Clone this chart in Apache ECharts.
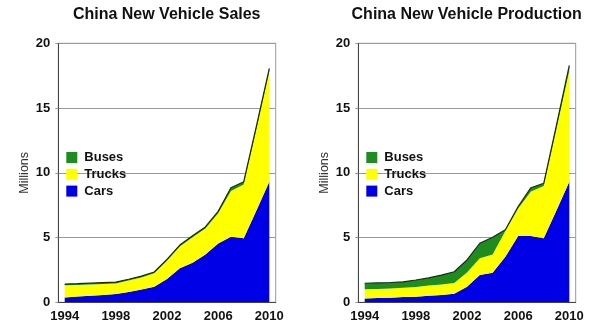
<!DOCTYPE html>
<html><head><meta charset="utf-8">
<script src="https://cdn.jsdelivr.net/npm/echarts@6/dist/echarts.min.js"></script>
<style>html,body{margin:0;padding:0;background:#fff}#c{width:600px;height:331px}</style>
</head><body><div id="c"></div>
<script>
const years = ['1994','1995','1996','1997','1998','1999','2000','2001','2002','2003','2004','2005','2006','2007','2008','2009','2010'];
const seriesNames = ['Buses','Trucks','Cars'];
const titles = ['China New Vehicle Sales','China New Vehicle Production'];
const yTicks = [0,5,10,15,20];
// Sales (millions)
const salesCars   = [0.38,0.44,0.50,0.57,0.64,0.80,0.98,1.20,1.80,2.62,3.06,3.70,4.55,5.07,4.94,7.10,9.31];
const salesTrucks = [0.93,0.90,0.88,0.85,0.82,0.88,0.94,1.04,1.40,1.68,1.96,2.00,2.32,3.53,4.16,6.30,8.49];
const salesBuses  = [0.10,0.10,0.10,0.10,0.10,0.10,0.10,0.10,0.12,0.12,0.12,0.12,0.15,0.25,0.21,0.25,0.27];
// Production (millions)
const prodCars   = [0.30,0.33,0.36,0.40,0.43,0.50,0.57,0.66,1.21,2.10,2.29,3.52,5.12,5.12,4.94,7.10,9.31];
const prodTrucks = [0.70,0.70,0.71,0.72,0.75,0.80,0.81,0.84,1.09,1.30,1.41,1.98,2.13,3.43,4.04,6.30,8.59];
const prodBuses  = [0.47,0.47,0.46,0.46,0.54,0.58,0.72,0.86,0.97,1.16,1.32,0.10,0.15,0.30,0.21,0.30,0.40];

const colors = {Cars:'#0000e6', Trucks:'#ffff00', Buses:'#1e8c1e'};
const font = 'Arial, "Liberation Sans", sans-serif';
const grids = [{left:58.3, top:43.3, width:217.4, height:259},{left:358.3, top:43.3, width:217.4, height:259}];
const centers = [166.7, 466.7];

function mkSeries(gi, cars, trucks, buses){
  const st = 's'+gi;
  const base = {type:'line', stack:st, xAxisIndex:gi, yAxisIndex:gi, symbol:'none', silent:true, animation:false};
  return [
    Object.assign({}, base, {name:'Cars', data:cars, lineStyle:{width:0}, areaStyle:{color:colors.Cars, opacity:1}, itemStyle:{color:colors.Cars}, z:2}),
    Object.assign({}, base, {name:'Trucks', data:trucks, lineStyle:{width:0}, areaStyle:{color:colors.Trucks, opacity:1}, itemStyle:{color:colors.Trucks}, z:2}),
    Object.assign({}, base, {name:'Buses', data:buses, lineStyle:{width:1.2, color:'#1a2a1a'}, areaStyle:{color:colors.Buses, opacity:1}, itemStyle:{color:colors.Buses}, z:3})
  ];
}

const option = {
  animation:false,
  title: titles.map((t,i)=>({text:t, left:centers[i], textAlign:'center', top:7, padding:0,
    textStyle:{fontFamily:font, fontWeight:'bold', fontSize:16, color:'#111'}})),
  legend: [0,1].map(i=>({data:seriesNames, orient:'vertical', left:grids[i].left+8, top:151, icon:'rect',
    itemWidth:11, itemHeight:11, itemGap:3.8, selectedMode:false, padding:0,
    textStyle:{fontFamily:font, fontWeight:'bold', fontSize:13, color:'#111', padding:[0,0,0,2]}})),
  grid: grids.map(g=>Object.assign({show:true, borderColor:'#999', borderWidth:1, backgroundColor:'transparent'}, g)),
  xAxis: [0,1].map(i=>({type:'category', gridIndex:i, data:years, boundaryGap:true,
    axisLine:{lineStyle:{color:'#444', width:1}}, axisTick:{show:false},
    axisLabel:{interval:3, margin:8, fontFamily:font, fontWeight:'bold', fontSize:13, color:'#111'}})),
  yAxis: [0,1].map(i=>({type:'value', gridIndex:i, min:yTicks[0], max:yTicks[yTicks.length-1], interval:5,
    name:'Millions', nameLocation:'middle', nameGap:27, nameRotate:90,
    nameTextStyle:{fontFamily:font, fontSize:12.5, color:'#333'},
    axisLine:{show:true, lineStyle:{color:'#444'}}, axisTick:{show:true, length:3, lineStyle:{color:'#999'}},
    splitLine:{lineStyle:{color:'#999', width:1}},
    axisLabel:{margin:8, fontFamily:font, fontWeight:'bold', fontSize:13, color:'#111'}})),
  series: [].concat(mkSeries(0, salesCars, salesTrucks, salesBuses), mkSeries(1, prodCars, prodTrucks, prodBuses))
};
const chart = echarts.init(document.getElementById('c'), null, {renderer:'canvas'});
chart.setOption(option);
</script></body></html>
